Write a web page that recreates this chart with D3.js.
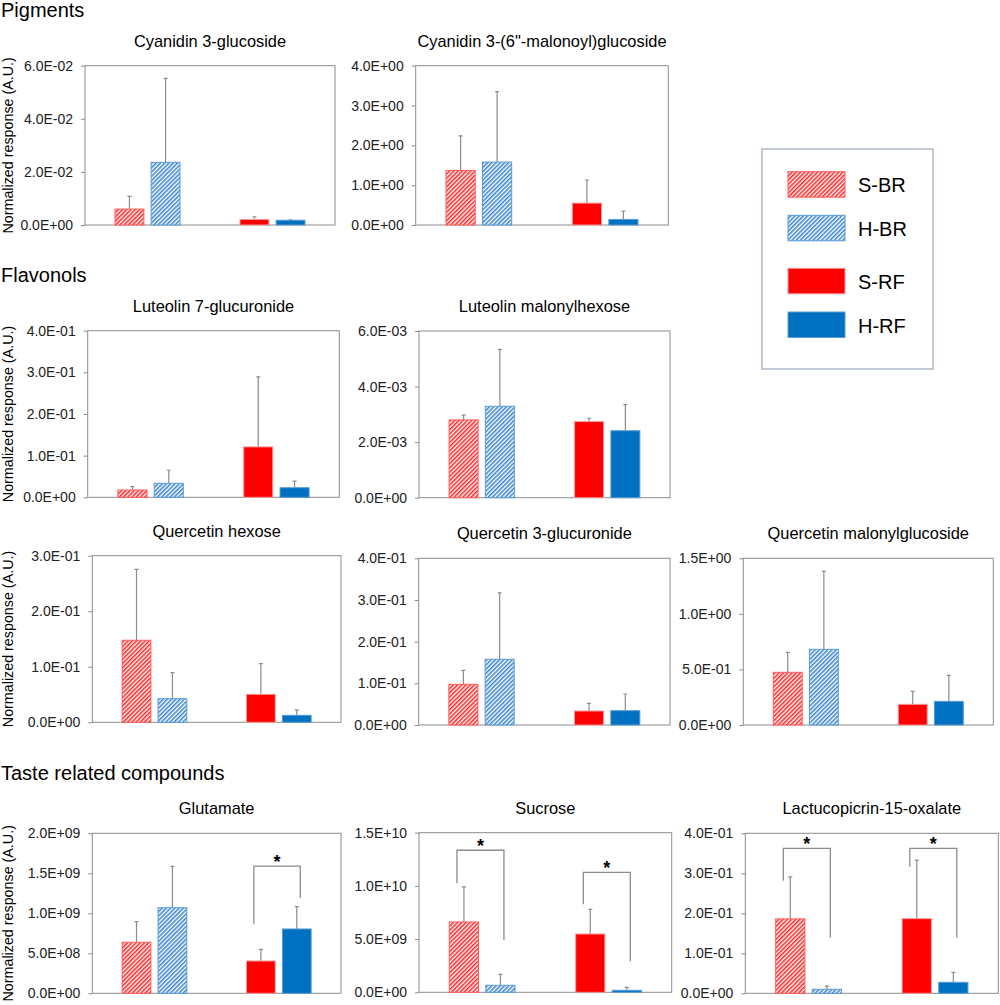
<!DOCTYPE html>
<html>
<head>
<meta charset="utf-8">
<script src="https://cdn.jsdelivr.net/npm/d3@7"></script>
<style>
  body { margin: 0; background: #fff; }
  svg { font-family: "Liberation Sans", Arial, sans-serif; }
</style>
</head>
<body>
<div id="chart"></div>
<script>
"use strict";

// compounds, in panel order
const compounds = [
    "Cyanidin 3-glucoside",
    "Cyanidin 3-(6''-malonoyl)glucoside",
    "Luteolin 7-glucuronide",
    "Luteolin malonylhexose",
    "Quercetin hexose",
    "Quercetin 3-glucuronide",
    "Quercetin malonylglucoside",
    "Glutamate",
    "Sucrose",
    "Lactucopicrin-15-oxalate"
];

const groups = ["S-BR", "H-BR", "S-RF", "H-RF"];

// mean values per group, one entry per compound
const sBR = [6.0e-3, 1.37, 0.0175, 2.80e-3, 0.1477, 0.0977, 0.474, 6.375e8, 6.61e9, 0.186];
const hBR = [2.36e-2, 1.58, 0.0336, 3.29e-3, 0.0425, 0.1577, 0.681, 1.07e9, 6.6e8, 0.010];
const sRF = [2.1e-3, 0.55, 0.121, 2.74e-3, 0.0504, 0.0336, 0.186, 4.04e8, 5.48e9, 0.1866];
const hRF = [1.8e-3, 0.14, 0.023, 2.41e-3, 0.0126, 0.0344, 0.213, 8.04e8, 1.9e8, 0.0275];

// standard deviations (upper error bars)
const sBRsd = [4.8e-3, 0.87, 0.008, 1.7e-4, 0.1278, 0.0333, 0.18, 2.575e8, 3.29e9, 0.105];
const hBRsd = [3.16e-2, 1.77, 0.0314, 2.05e-3, 0.0468, 0.1591, 0.702, 5.175e8, 1.03e9, 0.008];
const sRFsd = [1.0e-3, 0.58, 0.168, 1.2e-4, 0.0551, 0.0184, 0.117, 1.46e8, 2.32e9, 0.1464];
const hRFsd = [1.0e-4, 0.21, 0.016, 9.4e-4, 0.0096, 0.04, 0.234, 2.79e8, 2.8e8, 0.025];

// y axis max and tick step
const yMax = [6e-2, 4, 0.4, 6e-3, 0.3, 0.4, 1.5, 2e9, 1.5e10, 0.4];
const yStep = [2e-2, 1, 0.1, 2e-3, 0.1, 0.1, 0.5, 5e8, 5e9, 0.1];

// significance brackets: panel, bar pair, top, left leg end, right leg end
const brackets = [
    { panel: 7, pair: [2, 3], top: 1.59e9, left: 0.87e9, right: 1.19e9 },
    { panel: 8, pair: [0, 1], top: 13.35e9, left: 10.24e9, right: 4.92e9 },
    { panel: 8, pair: [2, 3], top: 11.28e9, left: 8.27e9, right: 2.91e9 },
    { panel: 9, pair: [0, 1], top: 0.3625, left: 0.2815, right: 0.139 },
    { panel: 9, pair: [2, 3], top: 0.3625, left: 0.3165, right: 0.139 }
];

const sections = [
    { text: "Pigments", y: 17 },
    { text: "Flavonols", y: 282 },
    { text: "Taste related compounds", y: 780 }
];

// plot boxes [x0, x1, y0, y1]
const boxes = [
    [85, 335, 65.7, 225],
    [415.7, 668.3, 65.7, 225],
    [87.7, 339.3, 330.7, 497.3],
    [419, 670, 331, 497.7],
    [92.3, 341, 555.7, 722.3],
    [418.7, 670, 558.3, 725],
    [743.3, 993.3, 558.3, 725],
    [92.3, 341, 833.3, 993.3],
    [419, 671.7, 832.7, 992.3],
    [745.3, 998.3, 833.3, 993.3]
];
const firstColumn = [0, 2, 4, 7];

const fills = ["url(#hatchRed)", "url(#hatchBlue)", "#ff0000", "#0070c0"];
const strokes = ["#ff5a5a", "#5b9bd5", "#f29a9a", "#5b9bd5"];

const svg = d3.select("#chart").append("svg")
    .attr("width", 1000)
    .attr("height", 1005);

const defs = svg.append("defs");
function hatch(id, color) {
    const p = defs.append("pattern")
        .attr("id", id)
        .attr("patternUnits", "userSpaceOnUse")
        .attr("width", 3)
        .attr("height", 3)
        .attr("patternTransform", "rotate(45)");
    p.append("rect").attr("width", 3).attr("height", 3).attr("fill", "#fff");
    p.append("rect").attr("width", 1.6).attr("height", 3).attr("fill", color);
}
hatch("hatchRed", "#ff2a2a");
hatch("hatchBlue", "#3f88cf");

function fmt(v) {
    let s = v.toExponential(1).toUpperCase();
    return s.replace(/E([+-])(\d)$/, "E$10$2");
}

svg.selectAll(".section")
    .data(sections)
    .enter().append("text")
    .attr("x", 1)
    .attr("y", d => d.y)
    .attr("font-size", 20)
    .text(d => d.text);

compounds.forEach(function (name, i) {
    const [x0, x1, y0, y1] = boxes[i];
    const g = svg.append("g");

    const y = d3.scaleLinear().domain([0, yMax[i]]).range([y1, y0]);
    const xOuter = d3.scaleBand().domain(["BR", "RF"]).range([x0, x1])
        .paddingInner(0.48).paddingOuter(0.24);
    const xInner = d3.scaleBand().domain(["S", "H"]).range([0, xOuter.bandwidth()])
        .paddingInner(0.2);

    const values = [sBR[i], hBR[i], sRF[i], hRF[i]];
    const sds = [sBRsd[i], hBRsd[i], sRFsd[i], hRFsd[i]];
    const bars = groups.map((k, j) => ({
        key: k,
        j: j,
        v: values[j],
        sd: sds[j],
        x: xOuter(j < 2 ? "BR" : "RF") + xInner(j % 2 === 0 ? "S" : "H")
    }));
    const bw = xInner.bandwidth();

    g.append("rect")
        .attr("x", x0).attr("y", y0)
        .attr("width", x1 - x0).attr("height", y1 - y0)
        .attr("fill", "none")
        .attr("stroke", "#8c8c8c")
        .attr("stroke-width", 1);

    const ticks = d3.range(0, yMax[i] + yStep[i] / 2, yStep[i]);
    const axis = d3.axisLeft(y).tickValues(ticks).tickFormat(fmt)
        .tickSizeInner(4).tickSizeOuter(0).tickPadding(8);
    const ax = g.append("g").attr("transform", `translate(${x0},0)`).call(axis);
    ax.attr("font-size", 14).attr("font-family", null);
    ax.select(".domain").remove();
    ax.selectAll("line").attr("stroke", "#8c8c8c");
    ax.selectAll("text").attr("fill", "#222");

    // error bars first, bars on top
    g.selectAll(".err")
        .data(bars)
        .enter().append("path")
        .attr("d", d => {
            const cx = d.x + bw / 2;
            return `M${cx},${y(d.v)}V${y(d.v + d.sd)}M${cx - 2},${y(d.v + d.sd)}H${cx + 2}`;
        })
        .attr("stroke", "#8c8c8c")
        .attr("stroke-width", 1.2)
        .attr("fill", "none");

    g.selectAll(".bar")
        .data(bars)
        .enter().append("rect")
        .attr("x", d => d.x)
        .attr("y", d => y(d.v))
        .attr("width", bw)
        .attr("height", d => y(0) - y(d.v))
        .attr("fill", d => fills[d.j])
        .attr("stroke", d => strokes[d.j])
        .attr("stroke-width", 1);

    brackets.filter(b => b.panel === i).forEach(function (b) {
        const lx = bars[b.pair[0]].x + bw / 2 - 7;
        const rx = bars[b.pair[1]].x + bw / 2 + 3.5;
        g.append("path")
            .attr("d", `M${lx},${y(b.left)}V${y(b.top)}H${rx}V${y(b.right)}`)
            .attr("stroke", "#8c8c8c")
            .attr("stroke-width", 1.3)
            .attr("fill", "none");
        g.append("text")
            .attr("x", (lx + rx) / 2)
            .attr("y", y(b.top) + 2)
            .attr("text-anchor", "middle")
            .attr("font-size", 18)
            .attr("font-weight", "bold")
            .text("*");
    });

    g.append("text")
        .attr("x", (x0 + x1) / 2)
        .attr("y", y0 - 19)
        .attr("text-anchor", "middle")
        .attr("font-size", 16.4)
        .text(name.replace("''", "\""));

    if (firstColumn.includes(i)) {
        g.append("text")
            .attr("transform", `translate(13,${(y0 + y1) / 2}) rotate(-90)`)
            .attr("text-anchor", "middle")
            .attr("font-size", 14.3)
            .text("Normalized response (A.U.)");
    }
});

// legend
const legend = svg.append("g");
legend.append("rect")
    .attr("x", 762).attr("y", 149)
    .attr("width", 171).attr("height", 220)
    .attr("fill", "none")
    .attr("stroke", "#8497b0")
    .attr("stroke-width", 1);
const legendY = [171.7, 215.3, 268.3, 312];
groups.forEach(function (k, j) {
    legend.append("rect")
        .attr("x", 788).attr("y", legendY[j])
        .attr("width", 57).attr("height", 25.5)
        .attr("fill", fills[j])
        .attr("stroke", strokes[j])
        .attr("stroke-width", 1);
    legend.append("text")
        .attr("x", 858)
        .attr("y", legendY[j] + 20.5)
        .attr("font-size", 20)
        .text(k);
});
</script>
</body>
</html>
